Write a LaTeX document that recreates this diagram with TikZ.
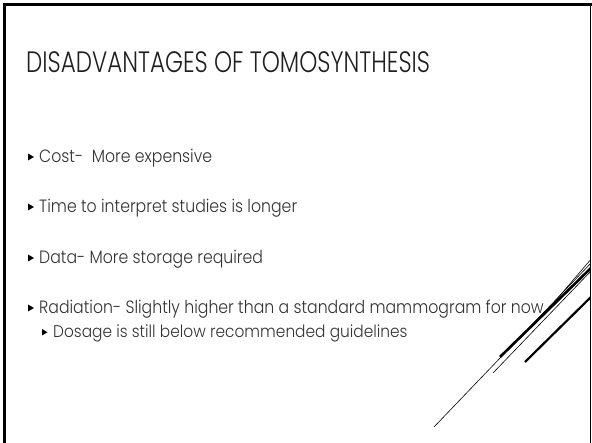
\documentclass[tikz,border=0pt]{standalone}
\usepackage{fontspec}
\setmainfont{Poppins}
\newfontfamily\titlefont{Poppins Light}[FakeStretch=0.78]
\newfontfamily\bodyfont{Poppins Light}[FakeStretch=0.883]
\newfontfamily\subfont{Poppins Light}[FakeStretch=0.91]
\definecolor{titlec}{HTML}{1F1F1F}
\definecolor{bodyc}{HTML}{333333}
\begin{document}
\begin{tikzpicture}[x=1pt,y=-1pt,
  titletext/.style={anchor=base west,inner sep=0pt,text=titlec,font=\titlefont\fontsize{29.5}{32}\selectfont},
  bodytext/.style={anchor=base west,inner sep=0pt,text=bodyc,font=\bodyfont\fontsize{17.8}{20}\selectfont},
  subtext/.style={anchor=base west,inner sep=0pt,text=bodyc,font=\subfont\fontsize{16.9}{19}\selectfont},
  bul/.style={fill=black}]
\useasboundingbox (0,0) rectangle (592,443);
\fill[white] (0,0) rectangle (592,443);
% frame
\draw[line width=3pt] (4.5,443) -- (4.5,4.5) -- (592,4.5);
\draw[line width=1pt] (590.5,4.5) -- (590.5,443);
% title
\node[titletext] (title) at (26,73) {DISADVANTAGES OF TOMOSYNTHESIS};
% bullets
\node[bodytext] (b1) at (39,163) {Cost-\ \ More expensive};
\node[bodytext] (b2) at (39,213) {Time to interpret studies is longer};
\node[bodytext] (b3) at (39,264) {Data- More storage required};
\node[bodytext] (b4) at (39,314) {Radiation- Slightly higher than a standard mammogram for now};
\node[subtext] (b5) at (53,338) {Dosage is still below recommended guidelines};
\foreach \y in {163,213,264,314} \fill[bul] (28,\y-9.5) -- (34,\y-6) -- (28,\y-2.5) -- cycle;
\fill[bul] (42,338-9) -- (47.5,338-5.75) -- (42,338-2.5) -- cycle;
% decorative lines
\begin{scope}
\clip (0,0) rectangle (590,443);
\draw[line width=0.6pt] (434,427) -- (592,262);
\draw[line width=0.6pt] (493,373) -- (592,270);
\draw[line width=2.6pt] (500,357) -- (592,267);
\draw[line width=0.6pt] (545,313) -- (592,258);
\draw[line width=2.2pt] (525,362) -- (592,296);
\end{scope}
\end{tikzpicture}
\end{document}
